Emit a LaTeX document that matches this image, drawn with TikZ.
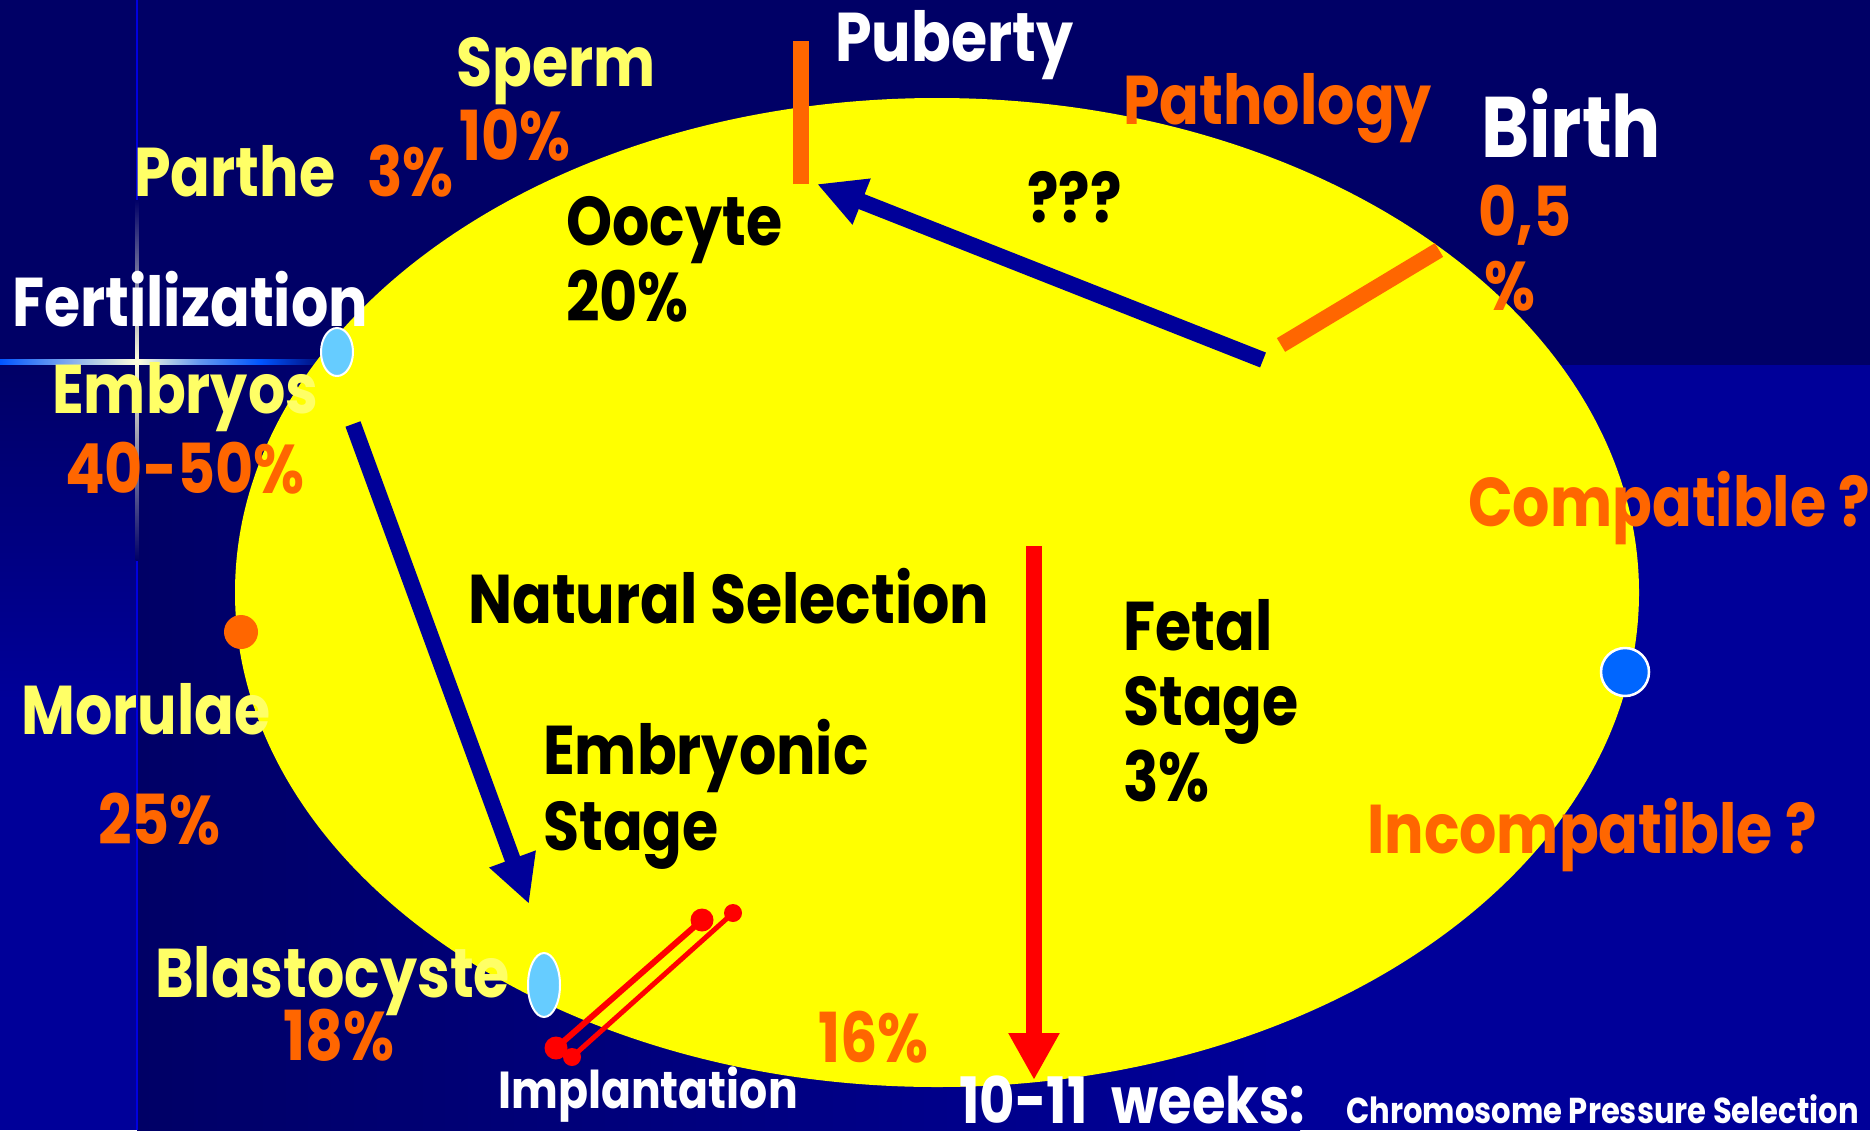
\documentclass[tikz,border=0pt]{standalone}
\usepackage{fontspec}
\setmainfont{Poppins}[BoldFeatures={FakeStretch=0.85}]
\usetikzlibrary{arrows.meta}
\definecolor{navy}{HTML}{000066}
\definecolor{royal}{HTML}{000099}
\definecolor{ylw}{HTML}{FFFF00}
\definecolor{lylw}{HTML}{FFFF66}
\definecolor{org}{HTML}{FF6600}
\definecolor{lblue}{HTML}{66CCFF}
\definecolor{dotblue}{HTML}{0066FF}
\definecolor{arrblue}{HTML}{000099}
\definecolor{glow}{HTML}{0055FF}
\definecolor{spark}{HTML}{FFFFDD}
\begin{document}
\begin{tikzpicture}[x=1pt,y=-1pt,
  lbl/.style={inner sep=0pt, anchor=base west, font=\bfseries\fontsize{69}{76}\selectfont},
  bigl/.style={lbl, font=\bfseries\fontsize{86}{90}\selectfont},
  midl/.style={lbl, font=\bfseries\fontsize{52}{58}\selectfont},
  wkl/.style={lbl, text depth=0pt, font=\bfseries\fontsize{64}{68}\selectfont},
  smll/.style={lbl, text depth=0pt, font=\bfseries\fontsize{36}{40}\selectfont},
  bar/.style={line width=16pt, org},
  bluearrow/.style={line width=16pt, arrblue, -{Triangle[length=48pt,width=46pt]}},
  redarrow/.style={line width=16pt, red, -{Triangle[length=47pt,width=48pt]}},
  markerfill/.style={draw=white, line width=2pt, fill=lblue},
  rdot/.style={circle, fill=red, inner sep=0pt}
]
\useasboundingbox (0,0) rectangle (1870,1130);
% background
\fill[navy] (0,0) rectangle (1870,1130);
\shade[left color=navy, right color=royal] (137,365) rectangle (1300,1130);
\fill[royal] (1300,365) rectangle (1870,1130);
\shade[top color=navy, bottom color=royal] (0,365) rectangle (137,700);
\fill[royal] (0,700) rectangle (137,1130);
% crosshair sparkle
\draw[line width=2pt, blue!80!navy] (137,0) -- (137,1130);
\shade[left color=glow, right color=spark] (0,359) rectangle (137,364);
\shade[left color=spark, right color=glow, middle color=glow!60!spark] (137,359) rectangle (260,364);
\shade[left color=glow, right color=navy] (260,359) rectangle (330,364);
\shade[top color=navy, bottom color=spark] (135.5,200) rectangle (138.5,361);
\shade[top color=spark, bottom color=navy] (135.5,361) rectangle (138.5,560);
% big ellipse
\fill[ylw] (937,592.5) ellipse [x radius=702pt, y radius=494.5pt];

% coordinates
\coordinate (pubtop) at (801,41);
\coordinate (pubbot) at (801,184);
\coordinate (birthlo) at (1281,345);
\coordinate (birthhi) at (1439,250);
\coordinate (a1s) at (1263,360);
\coordinate (a1e) at (817,184);
\coordinate (a2s) at (353,424);
\coordinate (a2e) at (529,904);
\coordinate (a3s) at (1034,546);
\coordinate (a3e) at (1034,1080);

% bars
\draw[bar] (pubtop) -- (pubbot);
\draw[bar] (birthlo) -- (birthhi);
% arrows
\draw[bluearrow] (a1s) -- (a1e);
\draw[bluearrow] (a2s) -- (a2e);
\draw[redarrow] (a3s) -- (a3e);

% implantation lines
\node[rdot, minimum size=23pt] (i1a) at (556,1048) {};
\node[rdot, minimum size=23pt] (i1b) at (702,920) {};
\node[rdot, minimum size=18pt] (i2a) at (572,1057) {};
\node[rdot, minimum size=18pt] (i2b) at (733,913) {};
\draw[red, line width=6pt] (i1a.center) -- (i1b.center);
\draw[red, line width=5pt] (i2a.center) -- (i2b.center);

% markers
\filldraw[markerfill] (337,352) ellipse [x radius=16pt, y radius=24pt];
\filldraw[markerfill] (544,985) ellipse [x radius=16pt, y radius=32pt];
\fill[org] (241,632) circle [radius=17pt];
\filldraw[draw=white, line width=2.5pt, fill=dotblue] (1625,672) circle [radius=24pt];

% texts
\node[lbl, white] (puberty) at (835,61) {Puberty};
\node[lbl, lylw] (sperm) at (456,86) {Sperm};
\node[lbl, org] (sperm-p) at (459,160) {10\%};
\node[lbl, lylw] (parthe) at (134,196) {Parthe};
\node[lbl, org] (parthe-p) at (367,196) {3\%};
\node[lbl, org] (pathology) at (1123,124) {Pathology};
\node[bigl, white] (birth) at (1481,157) {Birth};
\node[lbl, org] (birth-p1) at (1478,236) {0,5};
\node[lbl, org] (birth-p2) at (1484,310) {\%};
\node[lbl, black] (oocyte) at (566,245) {Oocyte};
\node[lbl, black] (oocyte-p) at (566,321) {20\%};
\node[lbl, black] (qqq) at (1027,222) {???};
\node[lbl, white] (fert) at (12,326) {Fertilization};
\node[lbl, lylw] (embryos) at (52,413) {Embryos};
\node[lbl, org] (embryos-p) at (65,493) {40-50\%};
\node[lbl, org] (compat) at (1468,526) {Compatible ?};
\node[lbl, black] (natsel) at (468,623) {Natural Selection};
\node[lbl, black] (fetal1) at (1123,650) {Fetal};
\node[lbl, black] (fetal2) at (1123,725) {Stage};
\node[lbl, black] (fetal3) at (1123,801) {3\%};
\node[lbl, lylw] (morulae) at (21,734) {Morulae};
\node[lbl, org] (morulae-p) at (98,844) {25\%};
\node[lbl, black] (embr1) at (543,774) {Embryonic};
\node[lbl, black] (embr2) at (543,850) {Stage};
\node[lbl, org] (incompat) at (1367,853) {Incompatible ?};
\node[lbl, lylw] (blasto) at (155,997) {Blastocyste};
\node[lbl, org] (blasto-p) at (283,1060) {18\%};
\node[lbl, org] (p16) at (818,1062) {16\%};
\node[midl, white] (implant) at (498,1108) {Implantation};
\node[wkl, white] (weeks) at (959,1123) {10-11\hspace{24pt}weeks:};
\node[smll, white] (chrom) at (1346,1123) {Chromosome Pressure Selection};
\end{tikzpicture}
\end{document}
